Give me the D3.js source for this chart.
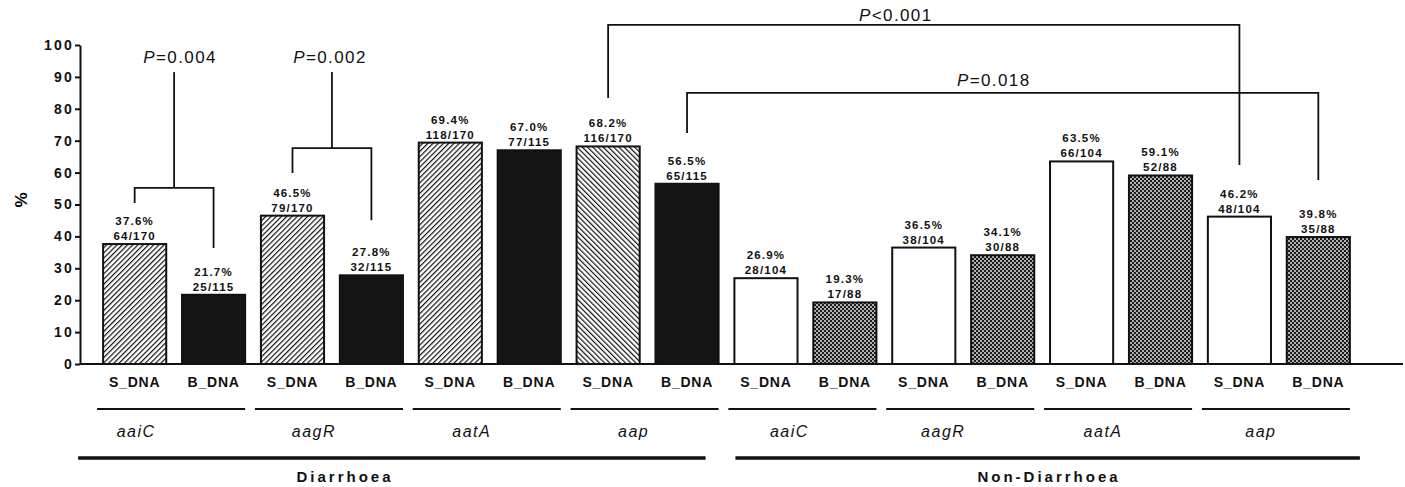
<!DOCTYPE html>
<html>
<head>
<meta charset="utf-8">
<script src="https://cdn.jsdelivr.net/npm/d3@7"></script>
<style>
  body { margin: 0; background: #fff; }
  svg { display: block; font-family: "Liberation Sans", Arial, sans-serif; }
</style>
</head>
<body>
<script>
// data
var samples = ["S_DNA","B_DNA","S_DNA","B_DNA","S_DNA","B_DNA","S_DNA","B_DNA",
               "S_DNA","B_DNA","S_DNA","B_DNA","S_DNA","B_DNA","S_DNA","B_DNA"];
var genes = ["aaiC","aagR","aatA","aap","aaiC","aagR","aatA","aap"];
var groups = ["Diarrhoea","Non-Diarrhoea"];
var percents = [37.6,21.7,46.5,27.8,69.4,67.0,68.2,56.5,26.9,19.3,36.5,34.1,63.5,59.1,46.2,39.8];
var fractions = ["64/170","25/115","79/170","32/115","118/170","77/115","116/170","65/115",
                 "28/104","17/88","38/104","30/88","66/104","52/88","48/104","35/88"];
var yTicks = [0,10,20,30,40,50,60,70,80,90,100];
var comparisons = [
    {a:0, b:1, p:"=0.004"},
    {a:2, b:3, p:"=0.002"},
    {a:6, b:14, p:"<0.001"},
    {a:7, b:15, p:"=0.018"}
];

var W = 1405, H = 487;
var svg = d3.select("body").append("svg")
    .attr("width", W)
    .attr("height", H);

var defs = svg.append("defs");
function hatch(id, dir){
    var s = 3.7;
    var p = defs.append("pattern").attr("id", id)
        .attr("patternUnits", "userSpaceOnUse")
        .attr("width", s).attr("height", s)
        .attr("patternTransform", "rotate(" + (dir * 45) + ")");
    p.append("rect").attr("width", s).attr("height", s).attr("fill", "#fff");
    p.append("line").attr("x1", 0).attr("y1", 0).attr("x2", 0).attr("y2", s)
        .attr("stroke", "#111").attr("stroke-width", 2.4);
}
hatch("fwd", 1);
hatch("back", -1);
var chk = defs.append("pattern").attr("id", "chk")
    .attr("patternUnits", "userSpaceOnUse")
    .attr("width", 4).attr("height", 4);
chk.append("rect").attr("width", 4).attr("height", 4).attr("fill", "#1c1c1c");
chk.append("circle").attr("cx", 1).attr("cy", 1).attr("r", 0.95).attr("fill", "#eee");
chk.append("circle").attr("cx", 3).attr("cy", 3).attr("r", 0.95).attr("fill", "#eee");

function fillFor(i){
    if (i < 8) {
        if (i % 2 == 1) return "#141414";
        return i == 6 ? "url(#back)" : "url(#fwd)";
    }
    return i % 2 == 0 ? "#fff" : "url(#chk)";
}

var x0 = 80, yBase = 364;
var x = d3.scaleBand()
    .domain(d3.range(samples.length))
    .range([96, 1357])
    .paddingInner(0.2)
    .paddingOuter(0.09);
var y = d3.scaleLinear().domain([0, 100]).range([yBase, 45]);

// y axis
var yAxis = svg.append("g")
    .attr("transform", "translate(" + x0 + ",0)")
    .call(d3.axisLeft(y).tickValues(yTicks).tickSize(5).tickSizeOuter(0).tickPadding(1));
yAxis.select(".domain").attr("stroke", "#111").attr("stroke-width", 2);
yAxis.selectAll(".tick line").attr("stroke", "#111").attr("stroke-width", 2);
yAxis.selectAll(".tick text")
    .attr("font-size", 14).attr("font-weight", "bold")
    .attr("letter-spacing", 2.2).attr("fill", "#111");

svg.append("text")
    .attr("transform", "translate(27,200) rotate(-90)")
    .attr("text-anchor", "middle")
    .attr("font-size", 17).attr("font-weight", "bold")
    .text("%");

// bars
svg.append("g").selectAll("rect")
    .data(percents)
    .enter()
    .append("rect")
    .attr("x", function(d, i) { return x(i); })
    .attr("y", function(d) { return y(d); })
    .attr("width", x.bandwidth())
    .attr("height", function(d) { return yBase - y(d); })
    .attr("fill", function(d, i) { return fillFor(i); })
    .attr("stroke", "#111")
    .attr("stroke-width", 2);

// value labels
var lab = svg.append("g").selectAll("g")
    .data(percents)
    .enter()
    .append("g")
    .attr("font-size", 11.5).attr("font-weight", "bold")
    .attr("letter-spacing", 1.2).attr("text-anchor", "middle").attr("fill", "#111");
lab.append("text")
    .attr("x", function(d, i) { return x(i) + x.bandwidth() / 2; })
    .attr("y", function(d) { return y(d) - 19; })
    .text(function(d) { return d.toFixed(1) + "%"; });
lab.append("text")
    .attr("x", function(d, i) { return x(i) + x.bandwidth() / 2; })
    .attr("y", function(d) { return y(d) - 4; })
    .text(function(d, i) { return fractions[i]; });

// x axis
svg.append("line")
    .attr("x1", x0).attr("x2", 1403)
    .attr("y1", yBase).attr("y2", yBase)
    .attr("stroke", "#111").attr("stroke-width", 2);
var xAxis = svg.append("g")
    .attr("transform", "translate(0," + yBase + ")")
    .call(d3.axisBottom(x).tickSize(0).tickPadding(13).tickFormat(function(i) { return samples[i]; }));
xAxis.select(".domain").remove();
xAxis.selectAll(".tick text")
    .attr("font-size", 14).attr("font-weight", "bold")
    .attr("letter-spacing", 0.8).attr("fill", "#111");

// gene underlines and labels
var cx = function(i) { return x(i) + x.bandwidth() / 2; };
var geneDx = [-38, -18, -18, -14, -16, -20, -18, -18];
var geneG = svg.append("g").selectAll("g")
    .data(genes)
    .enter()
    .append("g");
geneG.append("line")
    .attr("x1", function(d, k) { return x(2 * k) - 6; })
    .attr("x2", function(d, k) { return x(2 * k + 1) + x.bandwidth(); })
    .attr("y1", 409).attr("y2", 409)
    .attr("stroke", "#111").attr("stroke-width", 2.2);
geneG.append("text")
    .attr("x", function(d, k) { return (cx(2 * k) + cx(2 * k + 1)) / 2 + geneDx[k]; })
    .attr("y", 437)
    .attr("text-anchor", "middle")
    .attr("font-size", 16).attr("font-style", "italic")
    .attr("letter-spacing", 1.5).attr("fill", "#111")
    .text(function(d) { return d; });

// group lines and labels
var groupSpan = [[x(0) - 25, x(7) + x.bandwidth() - 13], [x(8) + 1, x(15) + x.bandwidth() + 10]];
var groupLabelX = [345, 1049];
var grp = svg.append("g").selectAll("g")
    .data(groups)
    .enter()
    .append("g");
grp.append("line")
    .attr("x1", function(d, k) { return groupSpan[k][0]; })
    .attr("x2", function(d, k) { return groupSpan[k][1]; })
    .attr("y1", 458).attr("y2", 458)
    .attr("stroke", "#111").attr("stroke-width", 3.5);
grp.append("text")
    .attr("x", function(d, k) { return groupLabelX[k]; })
    .attr("y", 482)
    .attr("text-anchor", "middle")
    .attr("font-size", 15).attr("font-weight", "bold")
    .attr("letter-spacing", 3).attr("fill", "#111")
    .text(function(d) { return d; });

// significance brackets (levels in axis units)
var bracketLayout = [
    {level: 55.2, legs: [50.5, 36.4], stem: 91.5, labelY: 57, dx: 6},
    {level: 67.7, legs: [59.9, 45.1], stem: 91.5, labelY: 57, dx: -2},
    {level: 106.3, legs: [83.4, 62.4], stem: null, labelY: 21, dx: -28},
    {level: 85.0, legs: [72.4, 57.7], stem: null, labelY: 86, dx: -9}
];
var br = svg.append("g").attr("fill", "none").attr("stroke", "#111").attr("stroke-width", 1.8);
comparisons.forEach(function(c, k) {
    var L = bracketLayout[k];
    var xa = cx(c.a), xb = cx(c.b), ly = y(L.level);
    br.append("path")
        .attr("d", "M" + xa + "," + y(L.legs[0]) + "V" + ly + "H" + xb + "V" + y(L.legs[1]));
    var mid = (xa + xb) / 2;
    if (L.stem != null) {
        br.append("line").attr("x1", mid).attr("x2", mid)
            .attr("y1", ly).attr("y2", y(L.stem));
    }
    var t = svg.append("text")
        .attr("x", mid + L.dx)
        .attr("y", L.labelY + (L.stem != null ? 6 : 0))
        .attr("text-anchor", "middle")
        .attr("font-size", 17).attr("letter-spacing", 1.4).attr("fill", "#111");
    t.append("tspan").attr("font-style", "italic").text("P");
    t.append("tspan").text(c.p);
});
</script>
</body>
</html>
